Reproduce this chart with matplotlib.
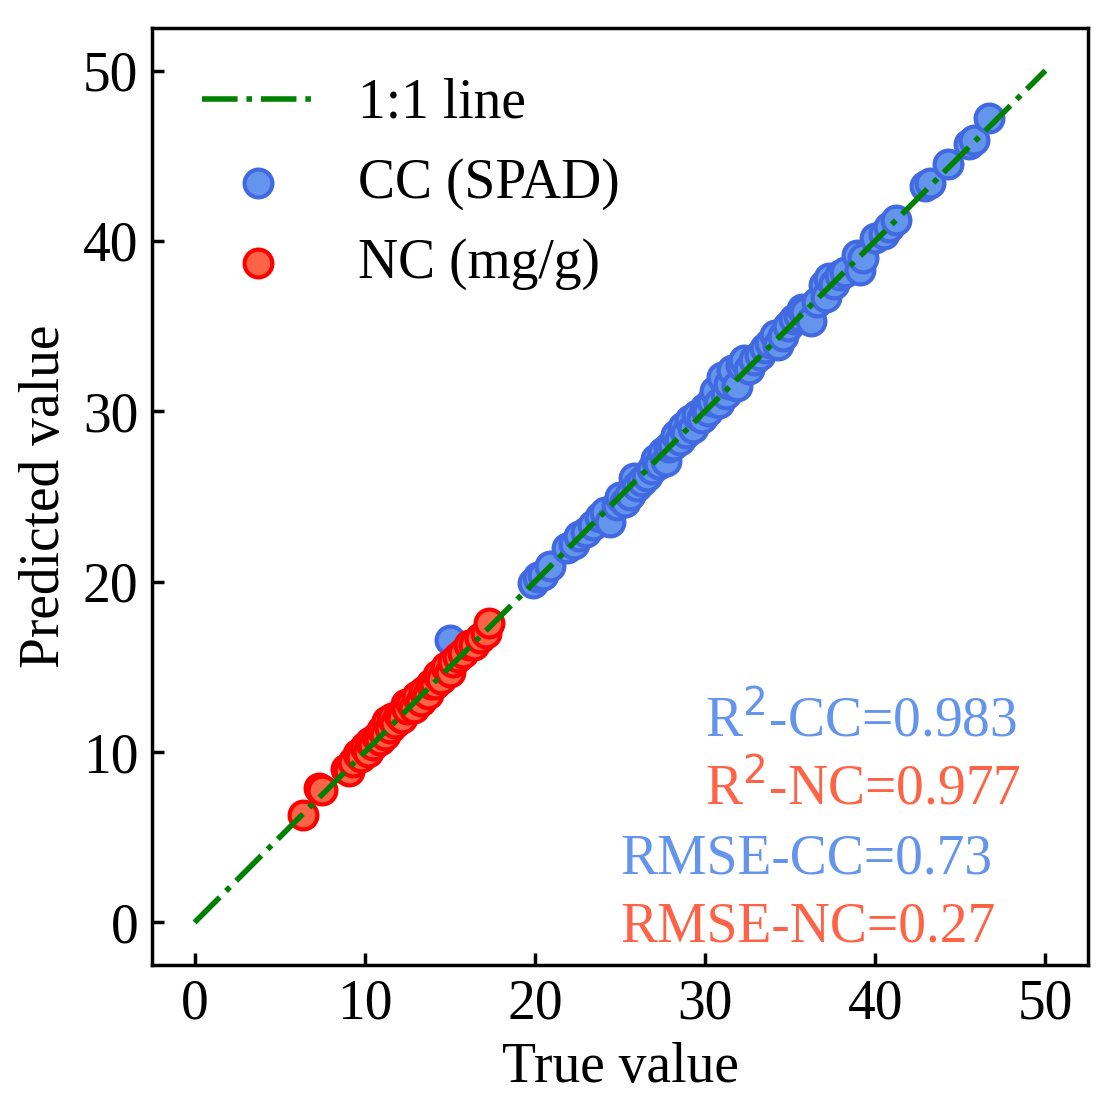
import matplotlib
matplotlib.use('Agg')
import matplotlib.pyplot as plt

plt.rcParams['font.family'] = ['Liberation Serif', 'DejaVu Serif']
plt.rcParams['mathtext.fontset'] = 'dejavusans'

# Nitrogen content (mg/g): true vs predicted
nc_true = [6.4, 7.3, 7.5, 8.9, 9.1, 9.3, 9.6, 9.8, 10.0, 10.2, 10.3, 10.5, 10.7, 10.9,
           11.0, 11.2, 11.3, 11.5, 11.6, 11.8, 12.0, 12.2, 12.4, 12.5, 12.7, 12.9, 13.1,
           13.3, 13.5, 13.7, 13.9, 14.1, 14.3, 14.5, 14.8, 15.0, 15.2, 15.5, 15.8, 16.1,
           16.4, 16.8, 17.1, 17.3]
nc_pred = [6.3, 7.9, 7.8, 9.0, 8.9, 9.4, 9.9, 9.7, 10.3, 10.0, 10.6, 10.4, 10.9, 10.7,
           11.3, 11.0, 11.8, 11.4, 12.0, 11.7, 12.2, 12.0, 12.8, 12.5, 12.9, 12.6, 13.3,
           13.0, 13.6, 13.4, 14.0, 14.0, 14.5, 14.3, 15.0, 14.7, 15.3, 15.6, 15.8, 16.3,
           16.3, 16.7, 17.0, 17.6]

# Chlorophyll content (SPAD): true vs predicted
cc_true = [15.0, 19.9, 20.2, 20.5, 20.9, 21.9, 22.3, 22.6, 23.0, 23.4, 23.8, 24.1, 24.4,
           24.8, 25.0, 25.3, 25.6, 25.8, 26.0, 26.3, 26.6, 26.9, 27.1, 27.3, 27.5, 27.7,
           27.9, 28.1, 28.3, 28.5, 28.7, 28.9, 29.1, 29.3, 29.5, 29.8, 30.0, 30.2, 30.4,
           30.6, 30.8, 31.0, 31.2, 31.4, 31.6, 31.9, 32.1, 32.3, 32.6, 32.9, 33.2, 33.5,
           33.8, 34.1, 34.3, 34.6, 34.9, 35.2, 35.5, 35.7, 35.9, 36.2, 36.6, 37.0, 37.1,
           37.3, 37.6, 37.9, 38.2, 38.9, 39.1, 39.3, 40.0, 40.5, 40.8, 41.2, 42.9, 43.2,
           44.3, 45.5, 45.8, 46.7]
cc_pred = [16.6, 19.9, 20.3, 20.4, 20.9, 22.0, 22.2, 22.7, 22.9, 23.3, 23.8, 24.1, 23.5,
           24.5, 25.0, 24.7, 25.1, 26.1, 25.6, 25.9, 26.2, 26.6, 27.2, 26.9, 27.6, 27.1,
           27.9, 28.0, 28.6, 28.3, 29.1, 28.7, 29.5, 29.0, 29.8, 29.6, 30.2, 30.0, 30.6,
           31.2, 30.5, 32.0, 31.0, 31.6, 32.4, 31.5, 32.7, 33.0, 32.5, 33.0, 33.3, 33.7,
           34.0, 34.5, 33.9, 34.4, 35.0, 35.4, 35.6, 36.0, 35.8, 35.3, 36.4, 37.4, 36.7,
           37.8, 37.5, 38.0, 38.2, 39.2, 38.3, 39.0, 40.2, 40.4, 40.8, 41.2, 43.2, 43.4,
           44.5, 45.7, 45.9, 47.2]

one_to_one = [0, 50]

metric_labels = [r'R$^2$-CC=0.983', r'R$^2$-NC=0.977', 'RMSE-CC=0.73', 'RMSE-NC=0.27']
metric_colors = ['cornflowerblue', 'tomato', 'cornflowerblue', 'tomato']
metric_x = [30, 30, 25, 25]
metric_y = [10.9, 6.9, 2.9, -1.1]

fs = 40

fig = plt.figure(figsize=(11.13, 11.10), dpi=100)
ax = fig.add_axes([0.1366, 0.1306, 0.8409, 0.8442])

cc = ax.scatter(cc_true, cc_pred, s=400, c='cornflowerblue', edgecolors='royalblue',
                linewidths=3, label='CC (SPAD)', zorder=2)
nc = ax.scatter(nc_true, nc_pred, s=400, c='tomato', edgecolors='red',
                linewidths=3, label='NC (mg/g)', zorder=3)
line, = ax.plot(one_to_one, one_to_one, color='green', linestyle='-.', linewidth=4,
                label='1:1 line', zorder=4)

for lab, col, x, y in zip(metric_labels, metric_colors, metric_x, metric_y):
    ax.text(x, y, lab, color=col, fontsize=fs, ha='left', va='baseline')

ax.set_xlim(-2.5, 52.5)
ax.set_ylim(-2.5, 52.5)
ax.set_xticks([0, 10, 20, 30, 40, 50])
ax.set_yticks([0, 10, 20, 30, 40, 50])
ax.tick_params(direction='in', length=8.5, width=2.5, labelsize=fs, pad=10)
for sp in ax.spines.values():
    sp.set_linewidth(2.5)

ax.set_xlabel('True value', fontsize=fs, labelpad=8)
ax.set_ylabel('Predicted value', fontsize=fs, labelpad=8)

ax.legend(handles=[line, cc, nc], loc='upper left', frameon=False, fontsize=fs,
          handlelength=2.0, handletextpad=0.8, labelspacing=0.5, scatterpoints=1)

plt.savefig('out.png', dpi=100)
